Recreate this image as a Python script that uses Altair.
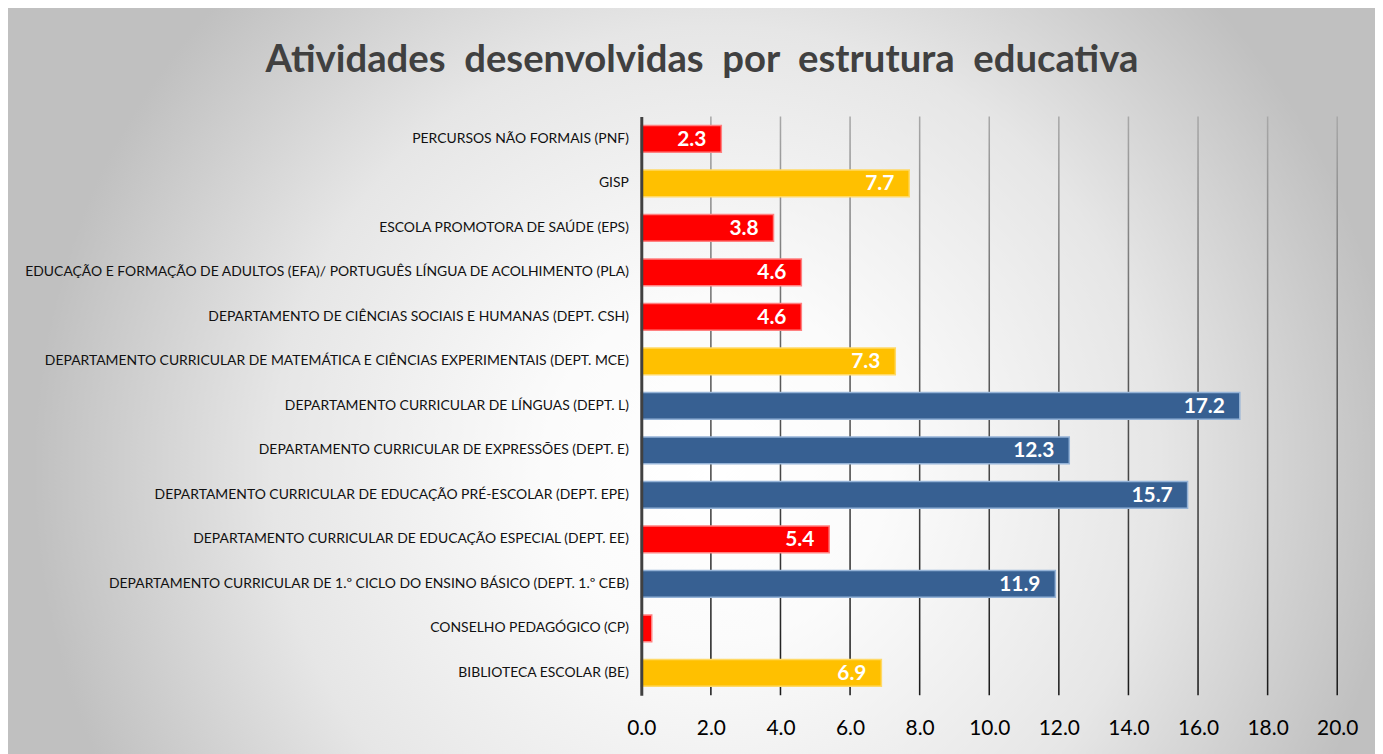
import altair as alt
import pandas as pd

TITLE = "Atividades\u00a0 desenvolvidas\u00a0 por\u00a0 estrutura\u00a0 educativa"

categories = [
    "PERCURSOS  NÃO FORMAIS (PNF)",
    "GISP",
    "ESCOLA PROMOTORA  DE SAÚDE (EPS)",
    "EDUCAÇÃO E FORMAÇÃO DE ADULTOS (EFA)/ PORTUGUÊS LÍNGUA DE ACOLHIMENTO (PLA)",
    "DEPARTAMENTO DE CIÊNCIAS SOCIAIS E HUMANAS (DEPT. CSH)",
    "DEPARTAMENTO CURRICULAR DE MATEMÁTICA E CIÊNCIAS EXPERIMENTAIS (DEPT. MCE)",
    "DEPARTAMENTO CURRICULAR DE LÍNGUAS (DEPT. L)",
    "DEPARTAMENTO CURRICULAR DE EXPRESSÕES (DEPT. E)",
    "DEPARTAMENTO CURRICULAR DE EDUCAÇÃO PRÉ-ESCOLAR (DEPT. EPE)",
    "DEPARTAMENTO CURRICULAR DE EDUCAÇÃO ESPECIAL (DEPT. EE)",
    "DEPARTAMENTO CURRICULAR DE 1.º CICLO DO ENSINO BÁSICO (DEPT. 1.º CEB)",
    "CONSELHO PEDAGÓGICO (CP)",
    "BIBLIOTECA  ESCOLAR (BE)",
]
values = [2.3, 7.7, 3.8, 4.6, 4.6, 7.3, 17.2, 12.3, 15.7, 5.4, 11.9, 0.3, 6.9]
x_ticks = [0, 2, 4, 6, 8, 10, 12, 14, 16, 18, 20]

FONT = "Lato"
W, H = 700, 582

df = pd.DataFrame({"cat": categories, "val": values})
grid_df = pd.DataFrame({"t": x_ticks[1:]})
title_df = pd.DataFrame({"title": [TITLE]})

x_scale = alt.Scale(domain=[0, 20], nice=False, zero=True)
y_scale = alt.Scale(domain=categories, paddingInner=0.4, paddingOuter=0.2)

x_axis = alt.Axis(zindex=1, values=x_ticks, format=".1f", domain=False,
                  ticks=False, grid=False, labelFont=FONT, labelFontSize=21,
                  labelColor="#000000", labelPadding=23, labelFlush=False)

bg_gradient = alt.RadialGradient(
    gradient="radial",
    x1=0.5, y1=0.5, r1=0.0,
    x2=0.5, y2=0.5, r2=0.458,
    stops=[
        alt.GradientStop(offset=0.0, color="#ffffff"),
        alt.GradientStop(offset=0.25, color="#fbfbfb"),
        alt.GradientStop(offset=0.65, color="#e6e6e6"),
        alt.GradientStop(offset=1.0, color="#c0c0c0"),
    ],
)

background = alt.Chart(title_df).mark_rect(fill=bg_gradient, strokeWidth=0).encode(
    x=alt.value(-675), x2=alt.value(825),
    y=alt.value(-395), y2=alt.value(1105),
)

grid_gradient = alt.LinearGradient(
    gradient="linear", x1=0, y1=0, x2=0, y2=1,
    stops=[
        alt.GradientStop(offset=0.0, color="#a8a8a8"),
        alt.GradientStop(offset=0.45, color="#5a5a5a"),
        alt.GradientStop(offset=1.0, color="#1a1a1a"),
    ],
)

grid = alt.Chart(grid_df).transform_calculate(
    lo="datum.t - 0.022", hi="datum.t + 0.022"
).mark_rect(fill=grid_gradient, strokeWidth=0).encode(
    x=alt.X("lo:Q", scale=x_scale, title=None, axis=x_axis),
    x2="hi:Q",
    y=alt.value(0), y2=alt.value(H),
)

bars = alt.Chart(df).mark_bar(strokeWidth=1.5, cornerRadius=0).encode(
    y=alt.Y("cat:N", sort=categories, scale=y_scale, title=None,
            axis=alt.Axis(zindex=1, domain=True, domainColor="#404040", domainWidth=3,
                          ticks=False, labelFont=FONT, labelFontSize=14,
                          labelColor="#111111", labelPadding=13, labelLimit=900)),
    x=alt.X("val:Q", scale=x_scale, title=None, axis=x_axis),
    fill=alt.Fill("val:Q", legend=None,
                  scale=alt.Scale(type="threshold", domain=[6, 10],
                                  range=["#ff0000", "#ffc000", "#376092"])),
    stroke=alt.Stroke("val:Q", legend=None,
                      scale=alt.Scale(type="threshold", domain=[6, 10],
                                      range=["#ff8080", "#ffd966", "#95b3d7"])),
)

labels = alt.Chart(df).transform_filter("datum.val >= 1").mark_text(
    align="right", baseline="middle", dx=-15, dy=1, color="white",
    font=FONT, fontWeight="bold", fontSize=21,
).encode(
    y=alt.Y("cat:N", sort=categories, scale=y_scale, title=None),
    x=alt.X("val:Q", scale=x_scale, title=None, axis=x_axis),
    text=alt.Text("val:Q", format=".1f"),
)

title = alt.Chart(title_df).mark_text(
    align="center", baseline="middle", font=FONT, fontWeight="bold",
    fontSize=38.5, color="#404040",
).encode(
    text="title:N",
    x=alt.value(61), y=alt.value(-57),
)

chart = alt.layer(background, grid, bars, labels, title).properties(
    width=W, height=H,
    autosize=alt.AutoSizeParams(type="none"),
    padding={"left": 637, "top": 107, "right": 38, "bottom": 57},
).configure_view(stroke=None).configure(background="white")

chart.save("out.html", embed_options={"renderer": "svg", "actions": False})
